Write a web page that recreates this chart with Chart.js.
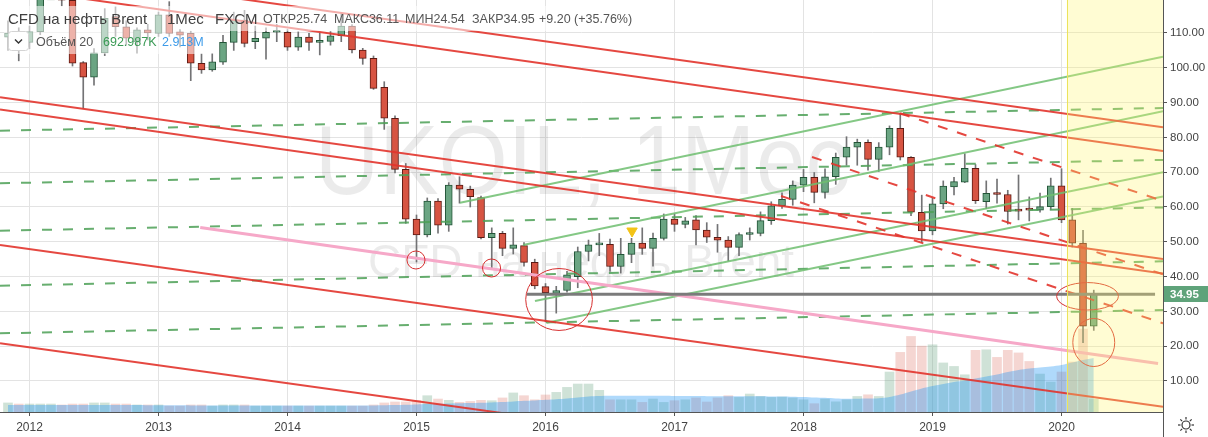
<!DOCTYPE html>
<html>
<head>
<meta charset="utf-8">
<script src="https://cdn.jsdelivr.net/npm/chart.js@4.4.1/dist/chart.umd.min.js"></script>
<style>
  html, body { margin: 0; padding: 0; background: #fff; }
  canvas { display: block; }
</style>
</head>
<body>
<canvas id="chart" width="1208" height="437"></canvas>
<script>
// month index: 0 = Jan 2012, first candle is Nov 2011
const firstMonth = -2;

const opens = [
  108.8, 110.0,
  107.3, 110.4, 122.5, 122.7, 119.4, 101.5, 97.3, 104.3, 114.7, 111.8, 107.5, 110.9,
  109.9, 115.2, 110.3, 109.9, 101.3, 99.4, 101.6, 107.3, 113.7, 107.5, 108.5, 110.2,
  110.2, 105.9, 108.8, 107.3, 107.6, 109.2, 112.0, 105.1, 102.7, 94.4, 85.5, 70.8,
  56.5, 52.0, 61.7, 54.8, 66.3, 65.1, 62.7, 51.2, 52.4, 48.1, 48.9, 44.1,
  37.1, 35.2, 36.0, 40.0, 47.2, 49.1, 49.3, 42.9, 46.4, 49.6, 48.1, 51.0,
  56.5, 55.0, 56.3, 53.4, 51.3, 50.5, 48.4, 52.1, 52.4, 56.1, 60.3, 62.2,
  66.3, 68.5, 64.2, 68.7, 74.3, 77.2, 78.6, 73.7, 77.2, 82.6, 74.3, 58.5,
  53.1, 60.9, 65.8, 67.1, 71.1, 61.5, 63.9, 63.6, 59.0, 59.3, 59.1, 60.1,
  66.1, 56.3, 49.6, 25.74
];
const highs = [
  113.5, 111.5,
  112.0, 123.0, 128.0, 124.0, 120.0, 101.8, 105.5, 117.0, 117.5, 113.5, 111.5, 112.5,
  116.0, 119.0, 111.0, 110.5, 104.0, 104.0, 109.3, 116.0, 116.5, 112.0, 111.5, 112.5,
  111.0, 110.3, 109.9, 109.9, 110.4, 115.5, 112.4, 105.6, 103.4, 96.0, 86.2, 72.5,
  57.7, 62.6, 62.4, 67.0, 68.7, 66.0, 63.1, 54.0, 53.0, 54.0, 49.8, 45.0,
  38.0, 37.2, 41.5, 48.5, 50.5, 52.4, 50.8, 51.0, 51.0, 54.0, 52.5, 58.0,
  58.0, 57.0, 57.5, 55.5, 55.0, 51.5, 52.6, 54.0, 58.6, 61.5, 64.1, 67.5,
  70.8, 69.9, 71.0, 75.5, 80.2, 79.5, 79.3, 78.5, 83.3, 86.9, 74.5, 63.4,
  62.5, 67.5, 68.5, 75.3, 72.2, 67.5, 68.0, 64.8, 69.2, 62.9, 64.0, 68.3,
  71.0, 59.6, 53.3, 36.11
];
const lows = [
  105.0, 102.0,
  105.5, 109.5, 120.5, 117.8, 100.5, 88.4, 95.0, 103.5, 109.0, 106.5, 104.2, 108.0,
  109.0, 109.0, 106.0, 96.3, 98.4, 99.0, 101.0, 105.0, 106.0, 105.5, 102.5, 107.5,
  105.0, 105.0, 105.0, 103.7, 106.5, 107.5, 104.3, 101.0, 93.8, 82.3, 69.8, 55.3,
  44.2, 51.4, 52.5, 53.0, 61.1, 60.0, 50.8, 42.5, 46.0, 46.5, 43.0, 36.5,
  27.0, 29.5, 35.5, 36.8, 44.5, 46.0, 41.5, 41.0, 44.0, 46.4, 43.0, 50.5,
  53.0, 54.0, 49.1, 49.8, 47.0, 44.5, 46.0, 50.5, 51.7, 55.0, 59.6, 60.5,
  64.4, 61.2, 62.5, 66.5, 72.0, 72.0, 70.6, 70.2, 75.0, 73.5, 57.5, 49.8,
  52.0, 59.5, 63.5, 67.0, 61.0, 59.5, 61.1, 55.1, 56.3, 56.0, 58.5, 59.3,
  55.5, 48.5, 21.0, 24.54
];
const closes = [
  110.0, 107.3,
  110.4, 122.5, 122.7, 119.4, 101.3, 97.3, 104.3, 114.2, 111.8, 108.5, 110.9, 110.0,
  115.2, 109.9, 109.4, 101.3, 99.4, 101.7, 107.3, 113.7, 107.0, 108.5, 110.2, 110.4,
  105.9, 108.8, 107.3, 107.6, 109.2, 112.0, 105.1, 102.7, 94.1, 85.5, 70.8, 56.5,
  52.0, 61.7, 54.8, 66.3, 65.1, 63.0, 51.2, 52.4, 48.1, 49.1, 44.1, 37.3,
  35.4, 36.0, 40.5, 47.2, 49.1, 49.4, 42.9, 46.4, 49.6, 48.1, 51.0, 56.5,
  55.0, 56.0, 53.4, 51.3, 50.5, 48.4, 52.1, 52.6, 56.1, 60.3, 62.2, 66.3,
  68.5, 64.2, 68.7, 74.3, 77.2, 78.6, 73.7, 77.2, 82.6, 74.3, 58.5, 53.1,
  60.9, 66.0, 67.3, 71.1, 61.8, 63.9, 63.6, 58.7, 58.8, 59.1, 60.1, 66.1,
  56.3, 49.6, 25.75, 34.95
];
// volume, millions
const volumes = [
  0.49, 0.43,
  0.43, 0.43, 0.43, 0.38, 0.43, 0.43, 0.49, 0.49, 0.43, 0.43, 0.38, 0.38,
  0.38, 0.32, 0.32, 0.38, 0.38, 0.32, 0.38, 0.38, 0.38, 0.32, 0.32, 0.32,
  0.32, 0.32, 0.32, 0.32, 0.32, 0.32, 0.32, 0.32, 0.38, 0.49, 0.54, 0.54,
  0.63, 0.88, 0.70, 0.63, 0.52, 0.57, 0.63, 0.61, 0.76, 1.03, 0.88, 0.66,
  0.92, 1.06, 1.33, 1.51, 1.51, 1.17, 0.66, 0.66, 0.66, 0.52, 0.70, 0.52,
  0.61, 0.66, 0.76, 0.54, 0.76, 0.88, 0.79, 0.97, 0.84, 0.79, 0.81, 0.76,
  0.66, 0.45, 0.70, 0.55, 0.66, 0.84, 0.93, 0.84, 2.16, 3.22, 4.08, 3.56,
  3.63, 2.65, 2.46, 2.01, 3.33, 3.36, 2.95, 3.33, 3.19, 2.73, 2.05, 1.62,
  2.16, 2.70, 4.48, 0.693
];
// volume MA 20, millions
const volumeMA = [
  0.378, 0.378,
  0.378, 0.378, 0.378, 0.378, 0.378, 0.378, 0.378, 0.378, 0.378, 0.378, 0.378, 0.367,
  0.367, 0.367, 0.362, 0.356, 0.356, 0.356, 0.351, 0.351, 0.351, 0.351, 0.351, 0.351,
  0.351, 0.351, 0.351, 0.351, 0.351, 0.351, 0.351, 0.351, 0.356, 0.367, 0.378, 0.394,
  0.410, 0.432, 0.448, 0.464, 0.475, 0.486, 0.502, 0.518, 0.540, 0.572, 0.605, 0.626,
  0.659, 0.691, 0.734, 0.788, 0.837, 0.864, 0.875, 0.880, 0.880, 0.875, 0.875, 0.875,
  0.864, 0.864, 0.859, 0.853, 0.853, 0.848, 0.853, 0.853, 0.853, 0.842, 0.837, 0.826,
  0.810, 0.783, 0.767, 0.734, 0.718, 0.718, 0.729, 0.745, 0.810, 0.945, 1.112, 1.269,
  1.404, 1.512, 1.620, 1.701, 1.809, 1.917, 2.025, 2.160, 2.268, 2.349, 2.403, 2.457,
  2.538, 2.673, 2.808, 2.913
];

const yearTicks = [0, 12, 24, 36, 48, 60, 72, 84, 96];
const yearLabels = ['2012', '2013', '2014', '2015', '2016', '2017', '2018', '2019', '2020'];
const priceTicks = [10, 20, 30, 40, 50, 60, 70, 80, 90, 100, 110];

// drawings, [month, price, month, price]
const redChannel = [
  [-2.744, 129.4, 105.44, 82.93],
  [-2.744, 123.24, 105.44, 76.12],
  [-2.744, 91.55, 105.44, 45.08],
  [-2.744, 88.04, 105.44, 40.92],
  [-2.744, 49.08, 105.44, 2.61],
  [-2.744, 20.83, 105.44, -25.6]
];
const greenLevels = [
  [-2.744, 81.93, 105.44, 88.45],
  [-2.744, 66.81, 105.44, 73.53],
  [-2.744, 53.19, 105.44, 59.88],
  [-2.744, 37.38, 105.44, 44.40],
  [-2.744, 23.70, 105.44, 30.40]
];
const greenChannel = [
  [40.05, 61.23, 105.44, 103.19],
  [45.91, 49.08, 105.44, 87.53],
  [47.02, 32.99, 105.44, 69.97],
  [48.11, 26.75, 105.44, 63.05]
];
const redFan = [
  [80.98, 86.92, 105.44, 61.72],
  [72.79, 74.37, 105.44, 40.66],
  [69.91, 63.16, 105.44, 26.58]
];
const pinkLine = [15.88, 54.11, 104.98, 15.03];
const lastPrice = 34.95;
const priceLine = [46.25, lastPrice, 104.7, lastPrice];
// [month, price, radius in months, radius in price]
const circles = [
  [35.95, 44.77, 0.84, 2.59],
  [42.98, 42.47, 0.84, 2.59],
  [49.26, 33.42, 3.1, 8.9],
  [98.42, 34.34, 2.87, 3.94],
  [99.0, 21.06, 1.95, 6.9]
];
const signal = [{x: 56.05, y: 53.1}];
const highlightFrom = 96.5;

const months = opens.map((_, i) => firstMonth + i);
const isUp = i => closes[i] >= opens[i];

const FONT = "'Liberation Sans', Arial, sans-serif";
Chart.defaults.font.family = FONT;

function segment(p, color, width, dash, order) {
  return {
    type: 'line',
    data: [{x: p[0], y: p[1]}, {x: p[2], y: p[3]}],
    borderColor: color,
    borderWidth: width,
    borderDash: dash || [],
    pointRadius: 0,
    fill: false,
    tension: 0,
    order: order
  };
}

let datasets = [
  {
    type: 'bar', label: 'Объём', yAxisID: 'yv',
    data: months.map((m, i) => ({x: m, y: volumes[i]})),
    backgroundColor: c => isUp(c.dataIndex) ? 'rgba(107,165,131,0.32)' : 'rgba(215,84,66,0.24)',
    barThickness: 9, order: 20
  },
  {
    type: 'line', label: 'MA', yAxisID: 'yv',
    data: months.map((m, i) => ({x: m, y: volumeMA[i]})),
    borderWidth: 0, backgroundColor: 'rgba(33,150,243,0.36)',
    fill: 'origin', pointRadius: 0, tension: 0.3, order: 19
  },
  {
    type: 'bar', label: 'wick',
    data: months.map((m, i) => ({x: m, y: [lows[i], highs[i]]})),
    backgroundColor: '#737375', barThickness: 1, order: 11
  },
  {
    type: 'bar', label: 'UKOIL',
    data: months.map((m, i) => ({x: m, y: [opens[i], closes[i]]})),
    backgroundColor: c => isUp(c.dataIndex) ? '#6ba583' : '#d75442',
    borderColor: c => isUp(c.dataIndex) ? '#225437' : '#5b1a13',
    borderWidth: 1, borderSkipped: false, minBarLength: 2,
    barThickness: 7, order: 10
  }
];
greenLevels.forEach(p => datasets.push(segment(p, 'rgba(76,160,86,0.85)', 2, [10, 11], 8)));
redChannel.forEach(p => datasets.push(segment(p, 'rgba(226,52,44,0.9)', 2, null, 6)));
greenChannel.forEach(p => datasets.push(segment(p, 'rgba(110,190,112,0.85)', 2, null, 7)));
redFan.forEach(p => datasets.push(segment(p, 'rgba(226,52,44,0.9)', 2, [10, 10], 5)));
datasets.push(segment(pinkLine, '#f6a8c8', 3, null, 4));
datasets.push(segment(priceLine, '#7b7b7b', 3, null, 3));
datasets.push({
  type: 'line', data: signal, showLine: false,
  pointStyle: 'triangle', rotation: 180, pointRadius: 6,
  pointBackgroundColor: '#f3c316', pointBorderColor: '#f3c316', order: 0
});

const drawings = {
  id: 'drawings',
  beforeDatasetsDraw(chart) {
    const {ctx, chartArea: a} = chart;
    ctx.save();
    ctx.beginPath();
    ctx.rect(a.left, a.top, a.width, a.height);
    ctx.clip();
    ctx.fillStyle = 'rgba(0,0,0,0.08)';
    ctx.textBaseline = 'alphabetic';
    ctx.font = '98px ' + FONT;
    let t = 'UKOIL, 1Мес';
    let w = ctx.measureText(t).width;
    ctx.save();
    ctx.translate(315, 194);
    ctx.scale(535 / w, 1);
    ctx.fillText(t, 0, 0);
    ctx.restore();
    ctx.font = '47px ' + FONT;
    t = 'CFD на нефть Brent';
    w = ctx.measureText(t).width;
    ctx.save();
    ctx.translate(368, 277);
    ctx.scale(426 / w, 1);
    ctx.fillText(t, 0, 0);
    ctx.restore();
    ctx.restore();
  },
  afterDatasetsDraw(chart) {
    const {ctx, chartArea: a, scales: {x, y}} = chart;
    ctx.save();
    ctx.beginPath();
    ctx.rect(a.left, a.top, a.width, a.height);
    ctx.clip();

    ctx.strokeStyle = '#d62f2f';
    ctx.lineWidth = 1;
    circles.forEach(c => {
      const cx = x.getPixelForValue(c[0]);
      const cy = y.getPixelForValue(c[1]);
      const rx = Math.abs(x.getPixelForValue(c[0] + c[2]) - cx);
      const ry = Math.abs(y.getPixelForValue(c[1] + c[3]) - cy);
      ctx.beginPath();
      ctx.ellipse(cx, cy, rx, ry, 0, 0, Math.PI * 2);
      ctx.stroke();
    });

    // highlighted period
    const hx = x.getPixelForValue(highlightFrom);
    ctx.fillStyle = 'rgba(255,245,110,0.3)';
    ctx.fillRect(hx, a.top, a.right - hx, a.height);
    ctx.strokeStyle = '#ece35c';
    ctx.beginPath();
    ctx.moveTo(Math.round(hx) + 0.5, a.top);
    ctx.lineTo(Math.round(hx) + 0.5, a.bottom);
    ctx.stroke();

    // legend
    ctx.fillStyle = 'rgba(255,255,255,0.55)';
    ctx.fillRect(4, 6, 630, 25);
    ctx.fillRect(4, 31, 202, 23);

    ctx.textBaseline = 'alphabetic';
    ctx.fillStyle = '#3f3f3f';
    ctx.font = '15px ' + FONT;
    ctx.fillText('CFD на нефть Brent', 8, 23.5);
    ctx.fillText('1Мес', 167, 23.5);
    ctx.fillText('FXCM', 215, 23.5);
    ctx.font = '12.5px ' + FONT;
    ctx.fillStyle = '#555';
    ctx.fillText('ОТКР25.74', 263, 23);
    ctx.fillText('МАКС36.11', 334, 23);
    ctx.fillText('МИН24.54', 405, 23);
    ctx.fillText('ЗАКР34.95', 472, 23);
    ctx.fillText('+9.20 (+35.76%)', 539, 23);

    ctx.fillStyle = '#fff';
    ctx.strokeStyle = '#d4d4d4';
    ctx.beginPath();
    ctx.roundRect(8.5, 31.5, 20, 19, 3);
    ctx.fill();
    ctx.stroke();
    ctx.strokeStyle = '#333';
    ctx.lineWidth = 1.4;
    ctx.beginPath();
    ctx.moveTo(15, 39.5);
    ctx.lineTo(18.5, 43);
    ctx.lineTo(22, 39.5);
    ctx.stroke();

    ctx.fillStyle = '#555';
    ctx.fillText('Объём 20', 36, 46);
    ctx.fillStyle = '#3a9a55';
    ctx.fillText('692.987K', 103, 46);
    ctx.fillStyle = '#3d9be9';
    ctx.fillText('2.913M', 162, 46);
    ctx.restore();
  },
  afterDraw(chart) {
    const {ctx, chartArea: a, scales: {y}} = chart;
    ctx.save();
    const py = Math.round(y.getPixelForValue(lastPrice));
    ctx.fillStyle = '#5fa37a';
    ctx.fillRect(a.right + 1, py - 8, chart.width - a.right, 16);
    ctx.fillStyle = '#fff';
    ctx.font = 'bold 11.5px ' + FONT;
    ctx.textBaseline = 'middle';
    ctx.fillText(lastPrice.toFixed(2), a.right + 7, py + 0.5);

    ctx.strokeStyle = '#555';
    ctx.lineWidth = 1;
    ctx.beginPath();
    ctx.moveTo(Math.round(a.right) + 0.5, a.bottom);
    ctx.lineTo(Math.round(a.right) + 0.5, chart.height);
    ctx.stroke();

    // settings icon
    const cx = 1186, cy = 425;
    ctx.strokeStyle = '#333';
    ctx.lineWidth = 1.2;
    ctx.beginPath();
    ctx.arc(cx, cy, 4, 0, Math.PI * 2);
    ctx.stroke();
    for (let k = 0; k < 8; k++) {
      const ang = k * Math.PI / 4;
      ctx.beginPath();
      ctx.moveTo(cx + Math.cos(ang) * 5.5, cy + Math.sin(ang) * 5.5);
      ctx.lineTo(cx + Math.cos(ang) * 8, cy + Math.sin(ang) * 8);
      ctx.stroke();
    }
    ctx.restore();
  }
};

new Chart(document.getElementById('chart'), {
  type: 'bar',
  data: { datasets: datasets },
  options: {
    responsive: false,
    animation: false,
    devicePixelRatio: 1,
    events: [],
    layout: { padding: 0, autoPadding: false },
    datasets: { bar: { grouped: false } },
    plugins: { legend: { display: false }, tooltip: { enabled: false } },
    scales: {
      x: {
        type: 'linear', min: -2.744, max: 105.44, offset: false,
        afterBuildTicks: s => { s.ticks = yearTicks.map(v => ({value: v})); },
        afterFit: s => { s.height = 25; s.paddingLeft = 0; s.paddingRight = 0; },
        grid: { color: '#e3e3e3', offset: false, tickLength: 4, tickColor: '#555' },
        border: { color: '#555' },
        ticks: {
          callback: v => yearLabels[yearTicks.indexOf(v)],
          color: '#444', font: { size: 12 }, padding: 4,
          maxRotation: 0, autoSkip: false
        }
      },
      y: {
        type: 'linear', position: 'right', min: 1.09, max: 119.48, beginAtZero: false,
        afterBuildTicks: s => { s.ticks = priceTicks.map(v => ({value: v})); },
        afterFit: s => { s.width = 45; s.paddingTop = 0; s.paddingBottom = 0; },
        grid: { color: '#e3e3e3', tickLength: 4, tickColor: '#555' },
        border: { color: '#555' },
        ticks: {
          callback: v => v.toFixed(2),
          color: '#444', font: { size: 11.5 }, padding: 3
        }
      },
      yv: { type: 'linear', display: false, min: 0, max: 22.25 }
    }
  },
  plugins: [drawings]
});
</script>
</body>
</html>
